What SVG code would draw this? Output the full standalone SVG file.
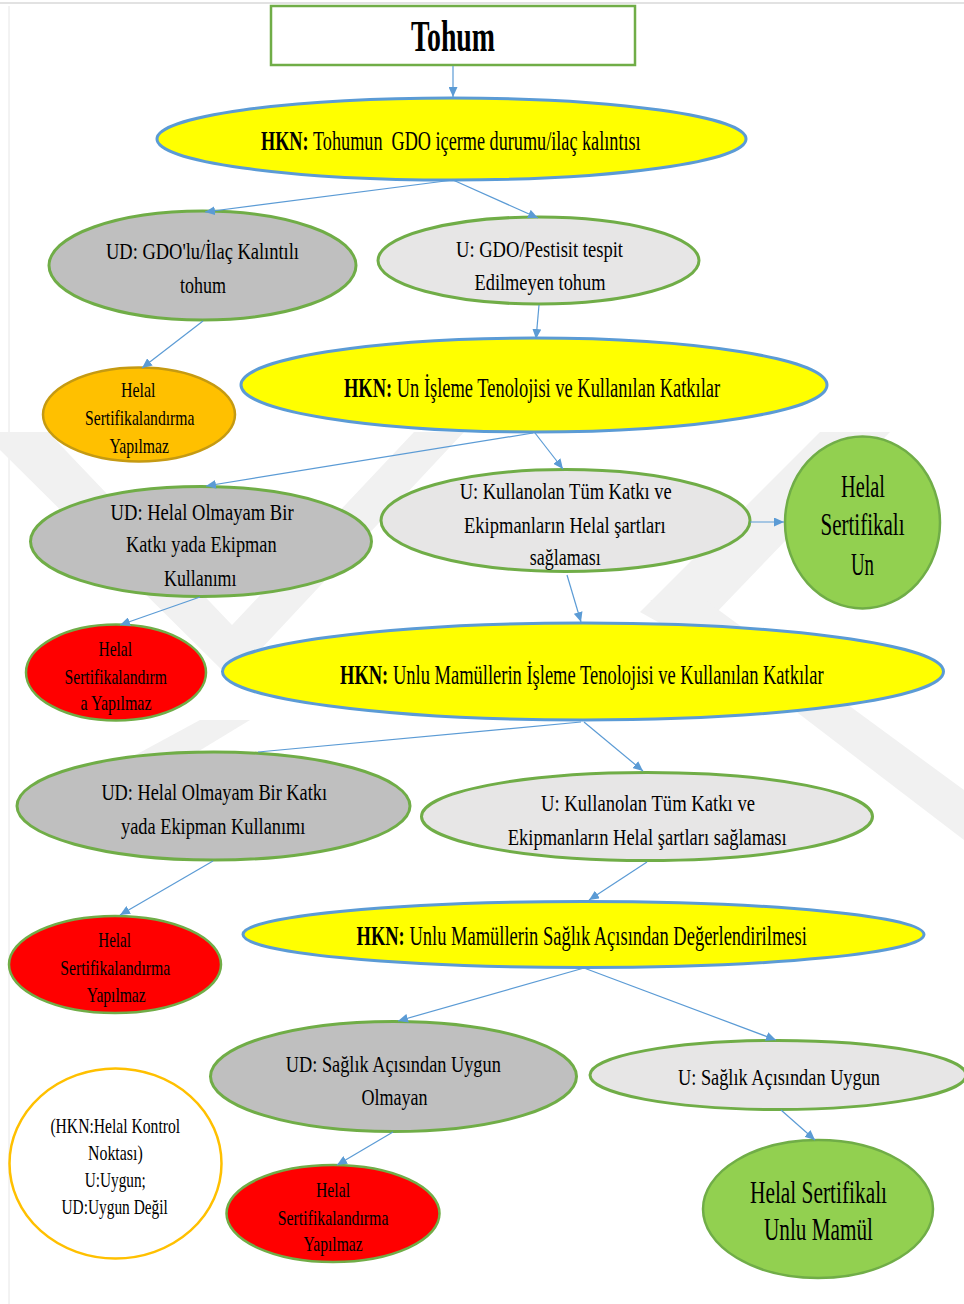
<svg xmlns="http://www.w3.org/2000/svg" width="964" height="1304" viewBox="0 0 964 1304">
<style>
text{font-family:"Liberation Serif","Times New Roman",serif;fill:#000}
.b{font-weight:bold}
.hkn{fill:#ffff00;stroke:#5b9bd5;stroke-width:3}
.ud{fill:#bfbfbf;stroke:#70ad47;stroke-width:3}
.u{fill:#e7e6e6;stroke:#70ad47;stroke-width:3}
.red{fill:#ff0000;stroke:#70ad47;stroke-width:2.5}
.grn{fill:#92d050;stroke:#70ad47;stroke-width:2.5}
.c line{stroke:#5b9bd5;stroke-width:1.2}
.wm{fill:#f1f1f1}
.t24{font-size:24px}
.t28{font-size:28px}
.t22{font-size:22px}
.t32{font-size:32px}
</style>
<defs>
<marker id="ah" markerUnits="userSpaceOnUse" markerWidth="11" markerHeight="9" refX="10" refY="4.5" orient="auto" viewBox="0 0 11 9">
<path d="M0,0 L10,4.5 L0,9 z" fill="#5b9bd5"/>
</marker>
</defs>
<rect width="964" height="1304" fill="#fff"/>
<g id="background">
<line x1="0" y1="3" x2="964" y2="3" stroke="#d9d9d9" stroke-width="1.5"/>
<line x1="9" y1="6" x2="9" y2="1304" stroke="#e6e6e6" stroke-width="1"/>
<polygon class="wm" points="0,432 48,432 232,625 414,432 464,432 232,680 0,450"/>
<polygon class="wm" points="820,432 890,432 690,640 640,612"/>
<polygon class="wm" points="650,600 705,600 964,790 964,840"/>
<polygon class="wm" points="200,720 250,720 110,805 80,785"/>
</g>

<g id="n-tohum">
<rect x="271" y="6" width="364" height="59" fill="#fff" stroke="#70ad47" stroke-width="2.5"/>
<text class="b" x="411" y="51" font-size="44" textLength="84" lengthAdjust="spacingAndGlyphs">Tohum</text>
</g>

<g id="n-hkn1">
<ellipse class="hkn" cx="451.5" cy="139" rx="294.5" ry="41"/>
<g transform="translate(261,150) scale(0.6497,1)">
<text class="b t28" x="0" y="0">HKN:</text>
<text class="t28" x="80.1" y="0" xml:space="preserve">Tohumun  GDO içerme durumu/ilaç kalıntısı</text>
</g>
</g>

<g id="n-ud1">
<ellipse class="ud" cx="202.5" cy="265.5" rx="153.5" ry="54.5"/>
<text class="t24" x="106" y="259" textLength="193" lengthAdjust="spacingAndGlyphs">UD: GDO'lu/İlaç Kalıntılı</text>
<text class="t24" x="180" y="293" textLength="46" lengthAdjust="spacingAndGlyphs">tohum</text>
</g>

<g id="n-u1">
<ellipse class="u" cx="538.5" cy="260.5" rx="160.5" ry="43.5"/>
<text class="t24" x="456" y="257" textLength="167" lengthAdjust="spacingAndGlyphs">U: GDO/Pestisit tespit</text>
<text class="t24" x="474.5" y="290" textLength="131" lengthAdjust="spacingAndGlyphs">Edilmeyen tohum</text>
</g>

<g id="n-orange">
<ellipse cx="139" cy="414.5" rx="96" ry="47" fill="#ffc000" stroke="#c59a12" stroke-width="2.5"/>
<text class="t22" x="121" y="397" textLength="34.5" lengthAdjust="spacingAndGlyphs">Helal</text>
<text class="t22" x="85" y="425" textLength="109.4" lengthAdjust="spacingAndGlyphs">Sertifikalandırma</text>
<text class="t22" x="109.4" y="453" textLength="59.6" lengthAdjust="spacingAndGlyphs">Yapılmaz</text>
</g>

<g id="n-hkn2">
<ellipse class="hkn" cx="534" cy="385" rx="293" ry="47"/>
<g transform="translate(344,397) scale(0.6587,1)">
<text class="b t28" x="0" y="0">HKN:</text>
<text class="t28" x="80.1" y="0">Un İşleme Tenolojisi ve Kullanılan Katkılar</text>
</g>
</g>

<g id="n-ud2">
<ellipse class="ud" cx="201" cy="541.5" rx="170.5" ry="55"/>
<text class="t24" x="110.6" y="520" textLength="183" lengthAdjust="spacingAndGlyphs">UD: Helal Olmayam Bir</text>
<text class="t24" x="126" y="552" textLength="150.6" lengthAdjust="spacingAndGlyphs">Katkı yada Ekipman</text>
<text class="t24" x="164" y="585.5" textLength="72.5" lengthAdjust="spacingAndGlyphs">Kullanımı</text>
</g>

<g id="n-u2">
<ellipse class="u" cx="565.5" cy="520.5" rx="184.5" ry="51"/>
<text class="t24" x="459.7" y="498.5" textLength="212" lengthAdjust="spacingAndGlyphs">U: Kullanolan Tüm Katkı ve</text>
<text class="t24" x="464" y="533" textLength="201.6" lengthAdjust="spacingAndGlyphs">Ekipmanların Helal şartları</text>
<text class="t24" x="529.8" y="565" textLength="71" lengthAdjust="spacingAndGlyphs">sağlaması</text>
</g>

<g id="n-un">
<ellipse class="grn" cx="862.5" cy="522.5" rx="77.5" ry="86"/>
<text class="t32" x="841" y="497" textLength="44" lengthAdjust="spacingAndGlyphs">Helal</text>
<text class="t32" x="820.5" y="535" textLength="84" lengthAdjust="spacingAndGlyphs">Sertifikalı</text>
<text class="t32" x="851" y="574.5" textLength="23" lengthAdjust="spacingAndGlyphs">Un</text>
</g>

<g id="n-red1">
<ellipse class="red" cx="116" cy="672.5" rx="90" ry="48"/>
<text class="t22" x="98.5" y="656" textLength="33.5" lengthAdjust="spacingAndGlyphs">Helal</text>
<text class="t22" x="64.5" y="684" textLength="102.5" lengthAdjust="spacingAndGlyphs">Sertifikalandırm</text>
<text class="t22" x="80.5" y="710" textLength="71" lengthAdjust="spacingAndGlyphs">a Yapılmaz</text>
</g>

<g id="n-hkn3">
<ellipse class="hkn" cx="583" cy="671.5" rx="360.5" ry="48.5"/>
<g transform="translate(340,684) scale(0.6605,1)">
<text class="b t28" x="0" y="0">HKN:</text>
<text class="t28" x="80.1" y="0">Unlu Mamüllerin İşleme Tenolojisi ve Kullanılan Katkılar</text>
</g>
</g>

<g id="n-ud3">
<ellipse class="ud" cx="213.5" cy="806" rx="196.5" ry="54"/>
<text class="t24" x="101.4" y="800" textLength="225.6" lengthAdjust="spacingAndGlyphs">UD: Helal Olmayam Bir Katkı</text>
<text class="t24" x="121" y="833.5" textLength="184.4" lengthAdjust="spacingAndGlyphs">yada Ekipman Kullanımı</text>
</g>

<g id="n-u3">
<ellipse class="u" cx="647" cy="816.5" rx="225.5" ry="44"/>
<text class="t24" x="541" y="811" textLength="214" lengthAdjust="spacingAndGlyphs">U: Kullanolan Tüm Katkı ve</text>
<text class="t24" x="507.7" y="845" textLength="279" lengthAdjust="spacingAndGlyphs">Ekipmanların Helal şartları sağlaması</text>
</g>

<g id="n-red2">
<ellipse class="red" cx="115" cy="964.5" rx="106" ry="48.5"/>
<text class="t22" x="98.3" y="947" textLength="32.6" lengthAdjust="spacingAndGlyphs">Helal</text>
<text class="t22" x="60.2" y="975" textLength="110" lengthAdjust="spacingAndGlyphs">Sertifikalandırma</text>
<text class="t22" x="86.7" y="1002" textLength="59" lengthAdjust="spacingAndGlyphs">Yapılmaz</text>
</g>

<g id="n-hkn4">
<ellipse class="hkn" cx="583.5" cy="934.5" rx="340.5" ry="33"/>
<g transform="translate(356.5,945) scale(0.6605,1)">
<text class="b t28" x="0" y="0">HKN:</text>
<text class="t28" x="80.1" y="0">Unlu Mamüllerin Sağlık Açısından Değerlendirilmesi</text>
</g>
</g>

<g id="n-ud4">
<ellipse class="ud" cx="393.5" cy="1076.5" rx="183" ry="55"/>
<text class="t24" x="285.8" y="1072" textLength="215" lengthAdjust="spacingAndGlyphs">UD: Sağlık Açısından Uygun</text>
<text class="t24" x="361.4" y="1105" textLength="66" lengthAdjust="spacingAndGlyphs">Olmayan</text>
</g>

<g id="n-u4">
<ellipse class="u" cx="778" cy="1075" rx="188" ry="34.5"/>
<text class="t24" x="678" y="1085" textLength="202" lengthAdjust="spacingAndGlyphs">U: Sağlık Açısından Uygun</text>
</g>

<g id="n-red3">
<ellipse class="red" cx="333" cy="1213.5" rx="106.5" ry="48.5"/>
<text class="t22" x="316" y="1197" textLength="34" lengthAdjust="spacingAndGlyphs">Helal</text>
<text class="t22" x="277.8" y="1225" textLength="110.6" lengthAdjust="spacingAndGlyphs">Sertifikalandırma</text>
<text class="t22" x="303.6" y="1251" textLength="59" lengthAdjust="spacingAndGlyphs">Yapılmaz</text>
</g>

<g id="n-legend">
<ellipse cx="115.5" cy="1163.5" rx="106" ry="95" fill="#fff" stroke="#ffc000" stroke-width="2.5"/>
<text x="50.4" y="1133" font-size="21" textLength="129.7" lengthAdjust="spacingAndGlyphs">(HKN:Helal Kontrol</text>
<text x="88" y="1160" font-size="21" textLength="54.7" lengthAdjust="spacingAndGlyphs">Noktası)</text>
<text x="84.8" y="1187" font-size="21" textLength="61" lengthAdjust="spacingAndGlyphs">U:Uygun;</text>
<text x="61.5" y="1214" font-size="21" textLength="106.3" lengthAdjust="spacingAndGlyphs">UD:Uygun Değil</text>
</g>

<g id="n-mamul">
<ellipse class="grn" cx="818" cy="1209" rx="115" ry="69"/>
<text class="t32" x="750" y="1203" textLength="137" lengthAdjust="spacingAndGlyphs">Helal Sertifikalı</text>
<text class="t32" x="764" y="1240" textLength="109" lengthAdjust="spacingAndGlyphs">Unlu Mamül</text>
</g>

<g id="connectors" class="c">
<line x1="453" y1="66" x2="453" y2="97" marker-end="url(#ah)"/>
<line x1="453" y1="180" x2="205" y2="212" marker-end="url(#ah)"/>
<line x1="453" y1="180" x2="538" y2="218" marker-end="url(#ah)"/>
<line x1="203" y1="321" x2="142" y2="368" marker-end="url(#ah)"/>
<line x1="539" y1="305" x2="536" y2="339" marker-end="url(#ah)"/>
<line x1="533" y1="433" x2="206" y2="486" marker-end="url(#ah)"/>
<line x1="535" y1="433" x2="563" y2="469" marker-end="url(#ah)"/>
<line x1="200" y1="597" x2="120" y2="625" marker-end="url(#ah)"/>
<line x1="567" y1="575" x2="581" y2="622" marker-end="url(#ah)"/>
<line x1="750" y1="522" x2="784" y2="522" marker-end="url(#ah)"/>
<line x1="581" y1="722" x2="258" y2="752"/>
<line x1="584" y1="722" x2="643" y2="771" marker-end="url(#ah)"/>
<line x1="213" y1="861" x2="120" y2="915" marker-end="url(#ah)"/>
<line x1="647" y1="862" x2="589" y2="900" marker-end="url(#ah)"/>
<line x1="584" y1="968" x2="398" y2="1021" marker-end="url(#ah)"/>
<line x1="584" y1="968" x2="776" y2="1040" marker-end="url(#ah)"/>
<line x1="393" y1="1132" x2="337" y2="1165" marker-end="url(#ah)"/>
<line x1="781" y1="1110" x2="815" y2="1140" marker-end="url(#ah)"/>
</g>
</svg>
